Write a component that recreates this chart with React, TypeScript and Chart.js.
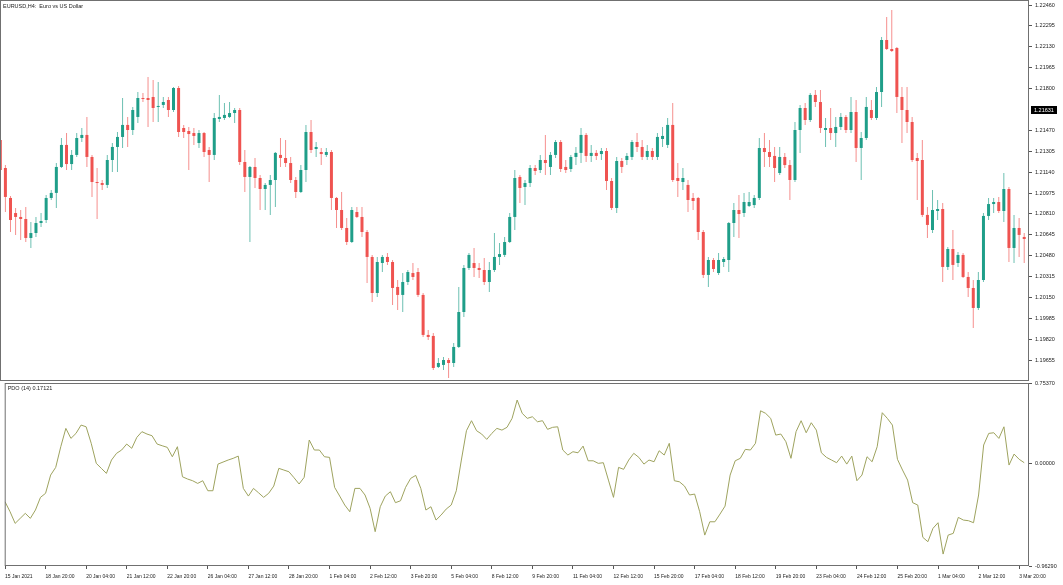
import { useEffect, useRef } from "react";
import { Chart, registerables } from "chart.js";

Chart.register(...registerables);

const FONT = '"Liberation Sans", Arial, sans-serif';
const chartTitle = "EURUSD,H4:  Euro vs US Dollar";
const pdoTitle = "PDO (14) 0.17121";

const opens = [
  1.21394, 1.21173, 1.20936, 1.20817, 1.20786, 1.2077, 1.2062, 1.20659, 1.20738, 1.20762,
  1.20936, 1.20976, 1.21181, 1.21355, 1.21204, 1.21276, 1.2141, 1.21434, 1.2126, 1.21062,
  1.21054, 1.21039, 1.21236, 1.21339, 1.21418, 1.21513, 1.21473, 1.21576, 1.21726, 1.21726,
  1.21734, 1.21655, 1.21671, 1.2171, 1.21631, 1.21805, 1.21489, 1.21465, 1.21449, 1.2137,
  1.21449, 1.21315, 1.21276, 1.2156, 1.21568, 1.21576, 1.21607, 1.21631, 1.2122, 1.21102,
  1.21181, 1.21094, 1.21007, 1.21039, 1.21078, 1.21276, 1.21252, 1.21212, 1.21078, 1.20983,
  1.21157, 1.21457, 1.21323, 1.21299, 1.21276, 1.21299, 1.20936, 1.20841, 1.20699, 1.20588,
  1.20825, 1.20786, 1.20667, 1.2047, 1.20185, 1.20422, 1.2047, 1.2043, 1.20233, 1.2017,
  1.20272, 1.20343, 1.20351, 1.2017, 1.19854, 1.19846, 1.19601, 1.19617, 1.19656, 1.19632,
  1.19759, 1.20035, 1.20383, 1.20422, 1.20383, 1.20367, 1.20272, 1.20367, 1.2047, 1.20486,
  1.20588, 1.20786, 1.21102, 1.21023, 1.21054, 1.21173, 1.21157, 1.21236, 1.21181, 1.21276,
  1.21378, 1.21181, 1.21165, 1.2126, 1.21292, 1.21434, 1.21268, 1.21292, 1.21283, 1.21307,
  1.2107, 1.20857, 1.21228, 1.21236, 1.2126, 1.21378, 1.21339, 1.2126, 1.21307, 1.2126,
  1.21402, 1.21355, 1.21513, 1.21094, 1.21062, 1.21039, 1.20936, 1.20936, 1.20667, 1.20328,
  1.20446, 1.20343, 1.2043, 1.20446, 1.20738, 1.20841, 1.20817, 1.20873, 1.2088, 1.20936,
  1.21331, 1.21299, 1.21268, 1.21133, 1.2126, 1.21196, 1.21078, 1.21473, 1.21647, 1.21552,
  1.2175, 1.21694, 1.21473, 1.21489, 1.21449, 1.21497, 1.21576, 1.21473, 1.21615, 1.21331,
  1.2141, 1.21631, 1.21568, 1.21773, 1.22184, 1.22113, 1.22121, 1.21734, 1.21631, 1.21536,
  1.21252, 1.21236, 1.20802, 1.20683, 1.20833, 1.20849, 1.20391, 1.20533, 1.20422, 1.20486,
  1.20312, 1.20225, 1.20067, 1.20288, 1.20794, 1.20888, 1.20904, 1.20833, 1.21007, 1.20541,
  1.20699, 1.20628,
];

const highs = [
  1.21434, 1.21196, 1.20952, 1.20857, 1.20841, 1.20865, 1.20746, 1.20786, 1.20817, 1.2096,
  1.20999, 1.21212, 1.2141, 1.21449, 1.21315, 1.21449, 1.21489, 1.21576, 1.21276, 1.21173,
  1.21078, 1.21276, 1.2137, 1.21457, 1.21726, 1.21576, 1.21655, 1.21773, 1.21765, 1.21892,
  1.21868, 1.21852, 1.21734, 1.21734, 1.21813, 1.21821, 1.21513, 1.21497, 1.21489, 1.21473,
  1.21457, 1.21339, 1.21607, 1.2175, 1.21686, 1.21694, 1.21647, 1.21647, 1.21315, 1.21189,
  1.21252, 1.21118, 1.21054, 1.21118, 1.21299, 1.2141, 1.21394, 1.2126, 1.21102, 1.21196,
  1.21513, 1.21552, 1.21378, 1.21331, 1.21331, 1.21315, 1.20944, 1.20983, 1.20778, 1.20865,
  1.20865, 1.20865, 1.20683, 1.20486, 1.2047, 1.20486, 1.20501, 1.20446, 1.20288, 1.20343,
  1.20367, 1.20422, 1.20383, 1.20185, 1.19893, 1.19869, 1.19672, 1.1968, 1.19672, 1.1979,
  1.20233, 1.20407, 1.20501, 1.20541, 1.20422, 1.20462, 1.2043, 1.20659, 1.2058, 1.20628,
  1.20817, 1.21157, 1.21118, 1.21078, 1.21196, 1.21196, 1.21276, 1.21434, 1.21299, 1.21394,
  1.21394, 1.21236, 1.21276, 1.21339, 1.21489, 1.21449, 1.21355, 1.21315, 1.21331, 1.21331,
  1.21094, 1.2126, 1.21252, 1.21292, 1.21394, 1.21449, 1.21394, 1.21355, 1.21331, 1.21449,
  1.21497, 1.21568, 1.21686, 1.21212, 1.21173, 1.21078, 1.20976, 1.20944, 1.20683, 1.2047,
  1.20462, 1.20501, 1.2047, 1.20746, 1.20896, 1.2096, 1.20976, 1.20983, 1.2096, 1.2141,
  1.21449, 1.21394, 1.21339, 1.21339, 1.21292, 1.21236, 1.21536, 1.21671, 1.21686, 1.21765,
  1.21789, 1.21789, 1.21568, 1.21647, 1.21576, 1.21607, 1.21592, 1.21734, 1.2171, 1.21457,
  1.21734, 1.2171, 1.21813, 1.22208, 1.22366, 1.22421, 1.22129, 1.21813, 1.21813, 1.21576,
  1.21292, 1.21394, 1.20865, 1.20999, 1.2092, 1.20896, 1.20549, 1.20683, 1.20509, 1.20501,
  1.20351, 1.20288, 1.20351, 1.20817, 1.20936, 1.20936, 1.20944, 1.21133, 1.21023, 1.20802,
  1.20778, 1.20659,
];

const lows = [
  1.21141, 1.20825, 1.20667, 1.20644, 1.20604, 1.20588, 1.20541, 1.20628, 1.20707, 1.20738,
  1.2092, 1.20857, 1.21173, 1.21157, 1.21157, 1.2126, 1.21378, 1.21181, 1.20944, 1.2077,
  1.20999, 1.21015, 1.21141, 1.21141, 1.21331, 1.21339, 1.21434, 1.21528, 1.21694, 1.21497,
  1.21536, 1.21536, 1.21647, 1.21576, 1.21615, 1.21418, 1.2141, 1.21157, 1.21355, 1.21331,
  1.2126, 1.21062, 1.21236, 1.21536, 1.21552, 1.21568, 1.21528, 1.21196, 1.20983, 1.20588,
  1.21015, 1.20841, 1.20841, 1.20802, 1.20865, 1.21181, 1.21181, 1.21054, 1.20936, 1.20976,
  1.21062, 1.21292, 1.2126, 1.21196, 1.2126, 1.20841, 1.20699, 1.20683, 1.20565, 1.2058,
  1.20778, 1.20628, 1.20264, 1.20114, 1.20154, 1.20351, 1.20407, 1.2009, 1.20051, 1.20035,
  1.20249, 1.20288, 1.20154, 1.19838, 1.19814, 1.19577, 1.19593, 1.19577, 1.19514, 1.19601,
  1.19751, 1.19996, 1.20367, 1.20312, 1.20304, 1.20249, 1.20193, 1.20351, 1.20407, 1.2047,
  1.2058, 1.20683, 1.20896, 1.2088, 1.21023, 1.21118, 1.21133, 1.21118, 1.21118, 1.21252,
  1.21141, 1.21133, 1.21141, 1.21196, 1.21212, 1.2122, 1.2122, 1.21236, 1.21236, 1.20999,
  1.20841, 1.20817, 1.21133, 1.21196, 1.21236, 1.21299, 1.21236, 1.21236, 1.21236, 1.21236,
  1.21339, 1.21331, 1.21062, 1.20944, 1.20999, 1.20825, 1.20841, 1.20604, 1.20304, 1.20233,
  1.20351, 1.20328, 1.20391, 1.20351, 1.20628, 1.2062, 1.20786, 1.20865, 1.20857, 1.2092,
  1.21181, 1.21181, 1.21062, 1.21118, 1.21173, 1.2092, 1.21062, 1.21292, 1.21513, 1.21536,
  1.21655, 1.21449, 1.21339, 1.21394, 1.21339, 1.21473, 1.21449, 1.21449, 1.2122, 1.21078,
  1.21394, 1.21552, 1.21552, 1.21655, 1.22105, 1.22089, 1.21607, 1.2137, 1.21449, 1.2122,
  1.2092, 1.20786, 1.2062, 1.20659, 1.20762, 1.20272, 1.20367, 1.20288, 1.20391, 1.20304,
  1.20154, 1.19909, 1.20051, 1.20272, 1.20762, 1.20817, 1.20817, 1.20746, 1.2043, 1.20422,
  1.2047, 1.20422,
];

const closes = [
  1.21157, 1.20944, 1.20762, 1.20786, 1.2077, 1.2062, 1.20659, 1.20738, 1.20754, 1.20936,
  1.20976, 1.21181, 1.21355, 1.21204, 1.21276, 1.2141, 1.21434, 1.2126, 1.21062, 1.21054,
  1.21039, 1.21236, 1.21339, 1.21418, 1.21513, 1.21473, 1.21631, 1.21726, 1.21718, 1.2171,
  1.21647, 1.21663, 1.21694, 1.21631, 1.21805, 1.21457, 1.21457, 1.21441, 1.21426, 1.21449,
  1.21299, 1.21276, 1.21568, 1.21576, 1.21592, 1.21607, 1.21631, 1.2122, 1.21102, 1.21181,
  1.21094, 1.21007, 1.21039, 1.21078, 1.21292, 1.21252, 1.21212, 1.21078, 1.20983, 1.21157,
  1.21457, 1.21315, 1.21339, 1.21283, 1.21299, 1.20936, 1.20841, 1.20699, 1.20588, 1.20841,
  1.20786, 1.20667, 1.2047, 1.20185, 1.2043, 1.2047, 1.2043, 1.20225, 1.2017, 1.20272,
  1.20351, 1.20312, 1.2017, 1.19854, 1.19838, 1.19593, 1.19632, 1.19656, 1.19632, 1.19759,
  1.20035, 1.20383, 1.20486, 1.20383, 1.20367, 1.20272, 1.20367, 1.2047, 1.20493, 1.20588,
  1.20786, 1.21094, 1.21015, 1.21054, 1.21173, 1.21149, 1.21236, 1.21212, 1.21276, 1.21378,
  1.21165, 1.21157, 1.2126, 1.21292, 1.21434, 1.21268, 1.21292, 1.21268, 1.21307, 1.2107,
  1.20857, 1.21228, 1.21181, 1.21268, 1.21378, 1.21339, 1.2126, 1.21307, 1.2126, 1.21418,
  1.21426, 1.21513, 1.21078, 1.2107, 1.21094, 1.2092, 1.20912, 1.20667, 1.20328, 1.20446,
  1.20375, 1.20446, 1.20454, 1.20738, 1.20841, 1.20809, 1.20904, 1.20904, 1.20936, 1.21331,
  1.21299, 1.2126, 1.21173, 1.2126, 1.21196, 1.21078, 1.21473, 1.21647, 1.21552, 1.2175,
  1.21694, 1.21489, 1.21489, 1.21449, 1.21497, 1.21576, 1.21473, 1.21615, 1.21331, 1.2141,
  1.21655, 1.21568, 1.21773, 1.22184, 1.22113, 1.22097, 1.21734, 1.21631, 1.21536, 1.21236,
  1.21228, 1.20802, 1.20723, 1.20841, 1.20849, 1.20391, 1.20533, 1.20407, 1.20486, 1.20312,
  1.20225, 1.20067, 1.20288, 1.20794, 1.20888, 1.20904, 1.20833, 1.21007, 1.20541, 1.20699,
  1.20644, 1.20612,
];

const pdoValues = [
  -0.36, -0.454, -0.563, -0.516, -0.469, -0.516, -0.438, -0.319, -0.281, -0.11,
  -0.038, 0.156, 0.328, 0.234, 0.281, 0.359, 0.343, 0.188, 0.0, -0.047,
  -0.094, 0.031, 0.094, 0.125, 0.181, 0.141, 0.244, 0.297, 0.275, 0.259,
  0.181, 0.165, 0.15, 0.062, 0.156, -0.126, -0.147, -0.163, -0.188, -0.163,
  -0.257, -0.257, -0.007, 0.012, 0.031, 0.047, 0.068, -0.235, -0.307, -0.235,
  -0.276, -0.319, -0.281, -0.213, -0.047, -0.063, -0.079, -0.135, -0.194, -0.131,
  0.219, 0.125, 0.125, 0.062, 0.056, -0.225, -0.307, -0.391, -0.454, -0.235,
  -0.235, -0.297, -0.422, -0.641, -0.407, -0.307, -0.266, -0.369, -0.351, -0.225,
  -0.141, -0.113, -0.235, -0.438, -0.407, -0.532, -0.485, -0.429, -0.391, -0.257,
  0.031, 0.306, 0.4, 0.306, 0.275, 0.225, 0.281, 0.328, 0.312, 0.338,
  0.422, 0.594, 0.469, 0.422, 0.437, 0.39, 0.4, 0.319, 0.338, 0.343,
  0.125, 0.078, 0.109, 0.099, 0.162, 0.024, 0.024, 0.0, 0.006, -0.157,
  -0.319, -0.038, -0.056, 0.031, 0.094, 0.056, -0.007, 0.031, 0.015, 0.118,
  0.078, 0.188, -0.163, -0.173, -0.213, -0.297, -0.288, -0.454, -0.673, -0.548,
  -0.548, -0.476, -0.401, -0.11, 0.024, 0.047, 0.131, 0.125, 0.188, 0.493,
  0.469, 0.422, 0.265, 0.275, 0.203, 0.047, 0.297, 0.4, 0.287, 0.381,
  0.312, 0.099, 0.056, 0.031, 0.006, 0.068, -0.007, 0.068, -0.163, -0.11,
  0.062, 0.015, 0.156, 0.475, 0.422, 0.359, 0.038, -0.063, -0.157, -0.369,
  -0.391, -0.694, -0.735, -0.61, -0.557, -0.851, -0.673, -0.657, -0.507, -0.532,
  -0.538, -0.557, -0.297, 0.172, 0.281, 0.287, 0.234, 0.343, -0.016, 0.087,
  0.038, 0.006,
];

const timeTickBars = [0, 8, 16, 24, 32, 40, 48, 56, 64, 72, 80, 88, 96, 104, 112, 120, 128, 136, 144, 152, 160, 168, 176, 184, 192, 200];
const timeLabels = [
  "15 Jan 2021", "18 Jan 20:00", "20 Jan 04:00", "21 Jan 12:00", "22 Jan 20:00", "26 Jan 04:00",
  "27 Jan 12:00", "28 Jan 20:00", "1 Feb 04:00", "2 Feb 12:00", "3 Feb 20:00", "5 Feb 04:00",
  "8 Feb 12:00", "9 Feb 20:00", "11 Feb 04:00", "12 Feb 12:00", "15 Feb 20:00", "17 Feb 04:00",
  "18 Feb 12:00", "19 Feb 20:00", "23 Feb 04:00", "24 Feb 12:00", "25 Feb 20:00", "1 Mar 04:00",
  "2 Mar 12:00", "3 Mar 20:00",
];

const priceTicks = [
  1.2246, 1.22295, 1.2213, 1.21965, 1.218, 1.2147, 1.21305, 1.2114, 1.20975,
  1.2081, 1.20645, 1.2048, 1.20315, 1.2015, 1.19985, 1.1982, 1.19655,
];
const lastPrice = 1.21631;
const pdoTicks = [0.7537, 0, -0.9629];

const PRICE_MIN = 1.1949;
const PRICE_MAX = 1.225;
const X_MIN = -0.06;
const X_MAX = 201.94;
const AXIS_W = 34;

const BULL = "#1f9e89";
const BEAR = "#ef5350";
const BULL_WICK = "rgba(31,158,137,0.65)";
const BEAR_WICK = "rgba(239,83,80,0.65)";
const PDO_COLOR = "#9ea35f";
const FRAME = "#707070";
const TEXT = "#222";

const barIndex = opens.map((_, i) => i);
const isBull = (i: number) => closes[i] >= opens[i];

function frame(ctx: CanvasRenderingContext2D, a: any) {
  ctx.strokeStyle = FRAME;
  ctx.lineWidth = 1;
  ctx.strokeRect(a.left + 0.5, a.top + 0.5, a.right - a.left - 1, a.bottom - a.top - 1);
}

const mainDecor = {
  id: "mainDecor",
  afterDraw(chart: any) {
    const { ctx, chartArea: a } = chart;
    ctx.save();
    frame(ctx, a);
    const y = Math.round(chart.scales.y.getPixelForValue(lastPrice));
    ctx.fillStyle = "#000";
    ctx.fillRect(a.right + 2, y - 4, 26, 8);
    ctx.fillStyle = "#fff";
    ctx.font = `5.5px ${FONT}`;
    ctx.textBaseline = "middle";
    ctx.fillText(lastPrice.toFixed(5), a.right + 5, y);
    ctx.fillStyle = TEXT;
    ctx.fillText(chartTitle, a.left + 3, a.top + 6);
    ctx.restore();
  },
};

const subDecor = {
  id: "subDecor",
  afterDraw(chart: any) {
    const { ctx, chartArea: a } = chart;
    ctx.save();
    frame(ctx, a);
    ctx.fillStyle = TEXT;
    ctx.font = `5.5px ${FONT}`;
    ctx.textBaseline = "middle";
    ctx.fillText(pdoTitle, a.left + 3, a.top + 5);
    ctx.restore();
  },
};

const yAxisCommon = {
  position: "right" as const,
  border: { display: false },
  grid: { drawOnChartArea: false, drawTicks: true, tickLength: 3, color: "#555" },
  afterFit: (s: any) => {
    s.width = AXIS_W;
    s.paddingTop = 0;
    s.paddingBottom = 0;
  },
};

export default function App() {
  const mainRef = useRef<HTMLCanvasElement>(null);
  const subRef = useRef<HTMLCanvasElement>(null);

  useEffect(() => {
    const main = new Chart(mainRef.current!, {
      type: "bar",
      data: {
        datasets: [
          {
            data: barIndex.map((i) => ({ x: i, y: [Math.min(opens[i], closes[i]), Math.max(opens[i], closes[i])] })) as any,
            backgroundColor: barIndex.map((i) => (isBull(i) ? BULL : BEAR)),
            grouped: false,
            barThickness: 3,
            maxBarThickness: 3,
            minBarLength: 1,
            inflateAmount: 0,
            borderWidth: 0,
          } as any,
          {
            data: barIndex.map((i) => ({ x: i, y: [lows[i], highs[i]] })) as any,
            backgroundColor: barIndex.map((i) => (isBull(i) ? BULL_WICK : BEAR_WICK)),
            grouped: false,
            barThickness: 1,
            maxBarThickness: 1,
            inflateAmount: 0,
            borderWidth: 0,
          } as any,
        ],
      },
      options: {
        animation: false,
        responsive: false,
        layout: { padding: 0 },
        plugins: { legend: { display: false }, tooltip: { enabled: false } },
        scales: {
          x: {
            type: "linear",
            display: false,
            min: X_MIN,
            max: X_MAX,
            offset: false,
            grid: { offset: false },
          },
          y: {
            ...yAxisCommon,
            min: PRICE_MIN,
            max: PRICE_MAX,
            afterBuildTicks: (s: any) => {
              s.ticks = priceTicks.map((v) => ({ value: v }));
            },
            ticks: {
              autoSkip: false,
              padding: 3,
              color: TEXT,
              font: { size: 5.5, family: FONT },
              callback: (v: any) => Number(v).toFixed(5),
            },
          } as any,
        },
      },
      plugins: [mainDecor],
    });

    const sub = new Chart(subRef.current!, {
      type: "line",
      data: {
        datasets: [
          {
            data: barIndex.map((i) => ({ x: i, y: pdoValues[i] })),
            borderColor: PDO_COLOR,
            borderWidth: 1,
            pointRadius: 0,
            tension: 0,
            fill: false,
          },
        ],
      },
      options: {
        animation: false,
        responsive: false,
        layout: { padding: { top: 7, left: 0, right: 0, bottom: 0 } },
        plugins: { legend: { display: false }, tooltip: { enabled: false } },
        scales: {
          x: {
            type: "linear",
            min: X_MIN,
            max: X_MAX,
            offset: false,
            border: { display: false },
            grid: { drawOnChartArea: false, drawTicks: true, tickLength: 3, color: "#555" },
            afterBuildTicks: (s: any) => {
              s.ticks = timeTickBars.map((v) => ({ value: v }));
            },
            afterFit: (s: any) => {
              s.height = 19;
            },
            ticks: {
              autoSkip: false,
              maxRotation: 0,
              minRotation: 0,
              align: "start",
              padding: 5,
              color: TEXT,
              font: { size: 5, family: FONT },
              callback: (v: any) => {
                const j = timeTickBars.indexOf(Number(v));
                return j >= 0 ? timeLabels[j] : "";
              },
            },
          } as any,
          y: {
            ...yAxisCommon,
            min: pdoTicks[2],
            max: pdoTicks[0],
            afterBuildTicks: (s: any) => {
              s.ticks = pdoTicks.map((v) => ({ value: v }));
            },
            ticks: {
              autoSkip: false,
              padding: 3,
              color: TEXT,
              font: { size: 5.5, family: FONT },
              callback: (v: any) => Number(v).toFixed(5),
            },
          } as any,
        },
      },
      plugins: [subDecor],
    });

    return () => {
      main.destroy();
      sub.destroy();
    };
  }, []);

  return (
    <div style={{ position: "fixed", left: 0, top: 0, width: 1063, height: 585, background: "#fff", overflow: "hidden" }}>
      <canvas ref={mainRef} width={1063} height={381} style={{ position: "absolute", left: 0, top: 0 }} />
      <canvas ref={subRef} width={1063} height={209} style={{ position: "absolute", left: 0, top: 376 }} />
    </div>
  );
}
